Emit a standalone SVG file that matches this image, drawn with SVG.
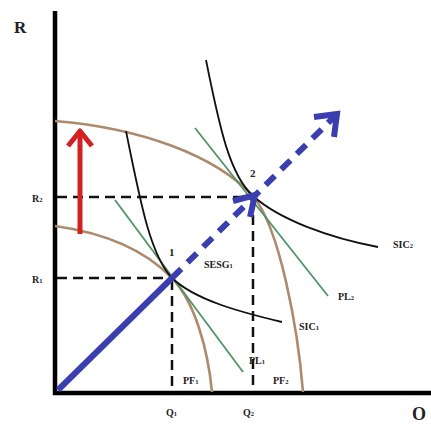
<svg xmlns="http://www.w3.org/2000/svg" width="431" height="425" viewBox="0 0 431 425">
<style>
text{font-family:"Liberation Serif","Times New Roman",serif;font-weight:bold;fill:#222}
.lbl{font-size:10px}
.sub{font-size:6.5px}
.axis{stroke:#000;stroke-width:4.5;fill:none}
.dash{stroke:#111;stroke-width:2.5;stroke-dasharray:10 6;fill:none}
.pf{stroke:#ad8a6c;stroke-width:2.6;fill:none}
.sic{stroke:#111;stroke-width:1.8;fill:none}
.pl{stroke:#4f9468;stroke-width:1.8;fill:none}
.blue{stroke:#3a3eae;stroke-width:6;fill:none}
.red{stroke:#d42222;stroke-width:5;fill:none}
</style>
<rect width="431" height="425" fill="#fff"/>
<g id="axes">
<line class="axis" x1="55" y1="11" x2="55" y2="395"/>
<line class="axis" x1="53" y1="393" x2="431" y2="393"/>
<text x="14" y="33" font-size="17">R</text>
<text x="412" y="420" font-size="18">O</text>
</g>
<g id="guides">
<line class="dash" x1="57" y1="197" x2="253" y2="197"/>
<line class="dash" x1="57" y1="278" x2="172" y2="278"/>
<line class="dash" x1="172" y1="280" x2="172" y2="391"/>
<line class="dash" x1="253" y1="199" x2="253" y2="391"/>
</g>
<g id="pf-curves">
<path class="pf" d="M55,121 C140,128 215,155 253,196 C280,228 298,330 303,392"/>
<path class="pf" d="M55,226 C105,233 145,250 172,278 C195,302 208,350 212,392"/>
</g>
<g id="pl-lines">
<line class="pl" x1="115" y1="200" x2="243" y2="372"/>
<line class="pl" x1="195" y1="128" x2="328" y2="296"/>
</g>
<g id="sic-curves">
<path class="sic" d="M126,131 C140,200 150,255 172,278 C195,300 240,312 282,322"/>
<path class="sic" d="M206,60 C220,130 230,175 253,196 C280,220 330,238 378,247"/>
</g>
<g id="connectors">
<line class="blue" x1="58" y1="390" x2="172" y2="278"/>
<line class="blue" x1="172" y1="278" x2="334" y2="117" stroke-dasharray="13 9"/>
<polyline class="blue" points="314,117 337,114 334,137"/>
<polyline class="blue" points="233,201 255,195 250,217"/>
<line class="red" x1="80" y1="234" x2="80" y2="134"/>
<polyline class="red" points="68,146 80,131 92,146" stroke-width="6" stroke-linejoin="round"/>
</g>
<g id="labels">
<text class="lbl" x="32" y="202">R<tspan class="sub">2</tspan></text>
<text class="lbl" x="32" y="283">R<tspan class="sub">1</tspan></text>
<text x="169" y="256" font-size="11">1</text>
<text x="250" y="177" font-size="11">2</text>
<text class="lbl" x="204" y="268">SESG<tspan class="sub">1</tspan></text>
<text class="lbl" x="393" y="248">SIC<tspan class="sub">2</tspan></text>
<text class="lbl" x="338" y="300">PL<tspan class="sub">2</tspan></text>
<text class="lbl" x="299" y="330">SIC<tspan class="sub">1</tspan></text>
<text class="lbl" x="249" y="364">PL<tspan class="sub">1</tspan></text>
<text class="lbl" x="273" y="384">PF<tspan class="sub">2</tspan></text>
<text class="lbl" x="183" y="384">PF<tspan class="sub">1</tspan></text>
<text class="lbl" x="166" y="416">Q<tspan class="sub">1</tspan></text>
<text class="lbl" x="243" y="416">Q<tspan class="sub">2</tspan></text>
</g>
</svg>
